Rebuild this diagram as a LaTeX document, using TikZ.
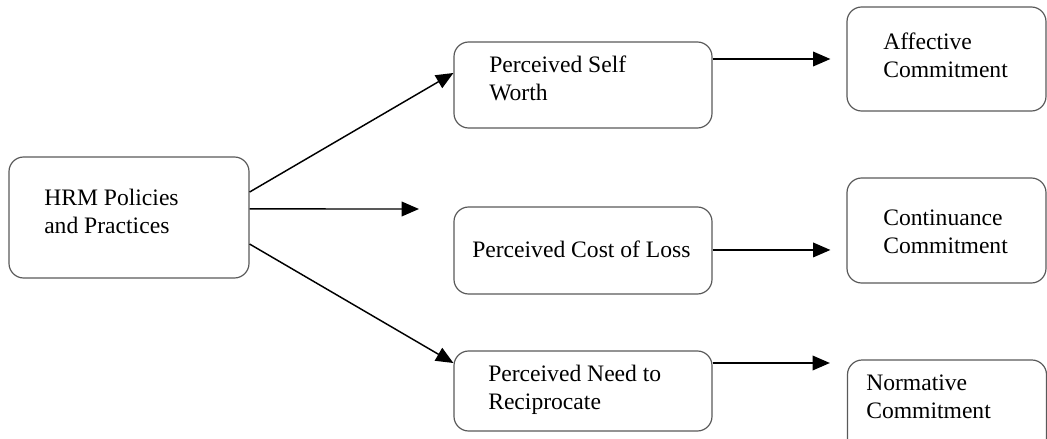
\documentclass[tikz,border=0pt]{standalone}
\usepackage{fontspec}
\setmainfont{Liberation Serif}
\usetikzlibrary{arrows.meta,calc}
\begin{document}
\begin{tikzpicture}[x=0.75pt,y=-0.75pt,
  box/.style={draw=black!65,line width=0.9pt,rounded corners=11pt,inner sep=0pt},
  txt/.style={anchor=base west,inner sep=0pt,align=left,font=\fontsize{17.7}{20.5}\selectfont},
  arr/.style={draw=black,line width=1.1pt,-{Triangle[length=13pt,width=11pt]}}]
\useasboundingbox (0,0) rectangle (1047,439);
% boxes
\node[box,minimum width=180pt,minimum height=90.75pt] (hrm) at (129,217.5) {};
\node[box,minimum width=193.5pt,minimum height=64.5pt] (self) at (583,85) {};
\node[box,minimum width=193.5pt,minimum height=65.25pt] (cost) at (583,250.5) {};
\node[box,minimum width=193.5pt,minimum height=60pt] (need) at (583,391) {};
\node[box,minimum width=149.25pt,minimum height=78pt] (aff) at (946.5,59) {};
\node[box,minimum width=149.25pt,minimum height=78.75pt] (cont) at (946.5,230.5) {};
\node[box,minimum width=149.25pt,minimum height=75pt] (norm) at (947,410) {};
% texts (anchored at the baseline of the last line)
\node[txt] (hrmT) at (44,233) {HRM Policies\\and Practices};
\node[txt] (selfT) at (489,100) {Perceived Self\\Worth};
\node[txt] (costT) at (472,257) {Perceived Cost of Loss};
\node[txt] (needT) at (488,409) {Perceived Need to\\Reciprocate};
\node[txt] (affT) at (883,77) {Affective\\Commitment};
\node[txt] (contT) at (883,253) {Continuance\\Commitment};
\node[txt] (normT) at (866,418) {Normative\\Commitment};
% connectors
\coordinate (mid) at (419,209);
\draw[arr] ([yshift=19.1pt]hrm.east) -- ([yshift=9pt]self.west);
\draw[arr] ([yshift=6.4pt]hrm.east) -- (mid);
\draw[arr] ([yshift=-19.9pt]hrm.east) -- ([yshift=21pt]need.west);
\coordinate (s1) at ([yshift=19.5pt]self.east);
\draw[arr,shorten >=12pt] (s1) -- (s1 -| aff.west);
\coordinate (c1) at ([yshift=0.4pt]cost.east);
\draw[arr,shorten >=12pt] (c1) -- (c1 -| cont.west);
\coordinate (n1) at ([yshift=21pt]need.east);
\draw[arr,shorten >=12.75pt] (n1) -- (n1 -| norm.west);
\end{tikzpicture}
\end{document}
